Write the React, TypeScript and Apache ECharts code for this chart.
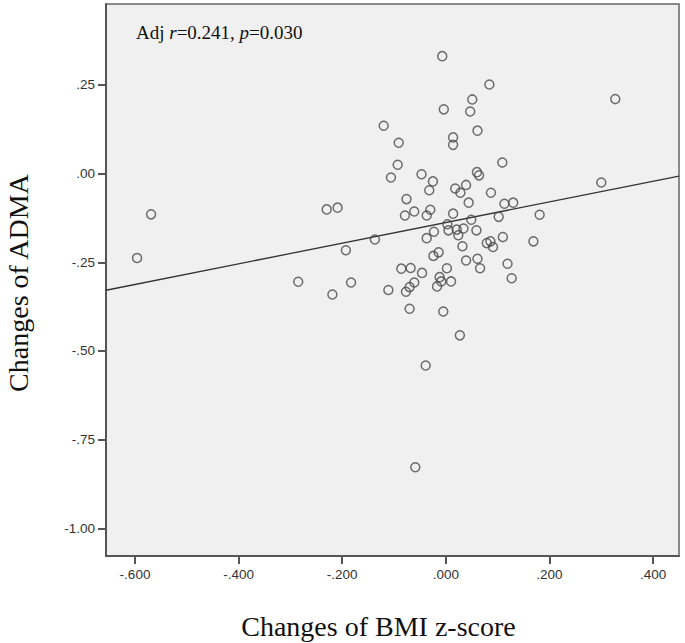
import React, { useEffect, useRef } from "react";
import * as echarts from "echarts";

// Changes of BMI z-score (x) and changes of ADMA (y)
const bmiChange: number[] = [
  -0.007, 0.084, 0.051, -0.004, 0.047, -0.120, -0.091, 0.061, 0.014, 0.014,
  -0.093, 0.109, -0.106, -0.047, 0.060, 0.064, -0.025, -0.032, 0.018, 0.028,
  0.039, 0.087, -0.076, 0.044, 0.113, 0.130, -0.209, -0.230, -0.079, -0.061,
  -0.030, -0.037, 0.014, 0.049, 0.102, 0.003, 0.005, 0.021, 0.034, 0.024,
  0.059, -0.023, -0.037, -0.137, -0.193, -0.219, 0.110, 0.079, 0.086, 0.091,
  0.032, -0.014, -0.024, 0.039, 0.061, 0.066, 0.119, 0.127, -0.086, -0.068,
  0.002, -0.046, -0.183, -0.111, -0.061, -0.070, -0.077, -0.012, -0.009, -0.017,
  0.010, -0.070, -0.005, 0.027, -0.039, -0.059, -0.569, -0.596, -0.285, 0.327,
  0.300, 0.181, 0.169,
];
const admaChange: number[] = [
  0.331, 0.251, 0.209, 0.181, 0.175, 0.135, 0.087, 0.121, 0.102, 0.081,
  0.025, 0.031, -0.011, -0.002, 0.004, -0.005, -0.022, -0.047, -0.042, -0.054,
  -0.032, -0.054, -0.072, -0.082, -0.085, -0.082, -0.096, -0.101, -0.118, -0.107,
  -0.102, -0.118, -0.113, -0.130, -0.122, -0.143, -0.160, -0.158, -0.155, -0.174,
  -0.160, -0.164, -0.182, -0.186, -0.216, -0.341, -0.179, -0.196, -0.191, -0.207,
  -0.205, -0.222, -0.232, -0.245, -0.240, -0.267, -0.254, -0.295, -0.268, -0.266,
  -0.267, -0.280, -0.307, -0.328, -0.307, -0.320, -0.333, -0.292, -0.304, -0.318,
  -0.304, -0.381, -0.389, -0.456, -0.541, -0.828, -0.115, -0.238, -0.305, 0.210,
  -0.025, -0.116, -0.191,
];

// Fitted regression line (ADMA = intercept + slope * BMI)
const fitIntercept = -0.138;
const fitSlope = 0.291;

const xTicks: number[] = [-0.6, -0.4, -0.2, 0, 0.2, 0.4];
const yTicks: number[] = [-1.0, -0.75, -0.5, -0.25, 0, 0.25];

const xRange: [number, number] = [-0.656, 0.45];
const yRange: [number, number] = [-1.078, 0.478];

const xTitle = "Changes of BMI z-score";
const yTitle = "Changes of ADMA";

function fmt(v: number, d: number): string {
  const s = Math.abs(v).toFixed(d).replace(/^0/, "");
  return (v < -1e-9 ? "-" : "") + s;
}

export default function App() {
  const ref = useRef<HTMLDivElement>(null);
  useEffect(() => {
    if (!ref.current) return;
    const chart = echarts.init(ref.current, undefined, { renderer: "svg" });
    const points = bmiChange.map((x, i) => [x, admaChange[i]]);
    const line = [
      [xRange[0], fitIntercept + fitSlope * xRange[0]],
      [xRange[1], fitIntercept + fitSlope * xRange[1]],
    ];
    const labelStyle = {
      fontFamily: "Liberation Sans, Arial, sans-serif",
      fontSize: 13.5,
      color: "#333",
    };
    chart.setOption({
      animation: false,
      grid: {
        left: 106,
        right: 6,
        top: 4,
        bottom: 87,
        show: true,
        backgroundColor: "#f0f0f0",
        borderColor: "#666",
        borderWidth: 1.5,
      },
      xAxis: {
        type: "value",
        min: xRange[0],
        max: xRange[1],
        axisLine: { show: true, onZero: false, lineStyle: { color: "#555", width: 2 } },
        axisTick: {
          show: true,
          customValues: xTicks,
          length: 8,
          lineStyle: { color: "#555", width: 2 },
        },
        axisLabel: {
          customValues: xTicks,
          margin: 11,
          formatter: (v: number) => fmt(v, 3),
          ...labelStyle,
        },
        splitLine: { show: false },
      },
      yAxis: {
        type: "value",
        min: yRange[0],
        max: yRange[1],
        axisLine: { show: true, onZero: false, lineStyle: { color: "#555", width: 2 } },
        axisTick: {
          show: true,
          customValues: yTicks,
          length: 8,
          lineStyle: { color: "#555", width: 2 },
        },
        axisLabel: {
          customValues: yTicks,
          margin: 11,
          formatter: (v: number) => fmt(v, 2),
          ...labelStyle,
        },
        splitLine: { show: false },
      },
      series: [
        {
          type: "line",
          data: line,
          symbol: "none",
          silent: true,
          lineStyle: { color: "#333", width: 1.3 },
          z: 2,
        },
        {
          type: "scatter",
          data: points,
          symbol: "circle",
          symbolSize: 9,
          itemStyle: {
            color: "rgba(0,0,0,0)",
            borderColor: "#4a4a4a",
            borderWidth: 1.5,
          },
          z: 3,
        },
      ],
      graphic: [
        {
          type: "text",
          x: 378.5,
          y: 626,
          style: {
            text: xTitle,
            font: "28px 'Liberation Serif', serif",
            fill: "#111",
            textAlign: "center",
            textVerticalAlign: "middle",
          },
        },
        {
          type: "text",
          x: 18,
          y: 283,
          rotation: Math.PI / 2,
          style: {
            text: yTitle,
            font: "28px 'Liberation Serif', serif",
            fill: "#111",
            textAlign: "center",
            textVerticalAlign: "middle",
          },
        },
        {
          type: "text",
          x: 136,
          y: 32,
          z: 10,
          style: {
            text: "Adj {i|r}=0.241, {i|p}=0.030",
            font: "19px 'Liberation Serif', serif",
            fill: "#111",
            textAlign: "left",
            textVerticalAlign: "middle",
            rich: {
              i: {
                fontStyle: "italic",
                fontFamily: "Liberation Serif",
                fontSize: 19,
                fill: "#111",
              },
            },
          },
        },
      ],
    });
    return () => chart.dispose();
  }, []);
  return (
    <div
      ref={ref}
      style={{ position: "absolute", left: 0, top: 0, width: 685, height: 643 }}
    />
  );
}
